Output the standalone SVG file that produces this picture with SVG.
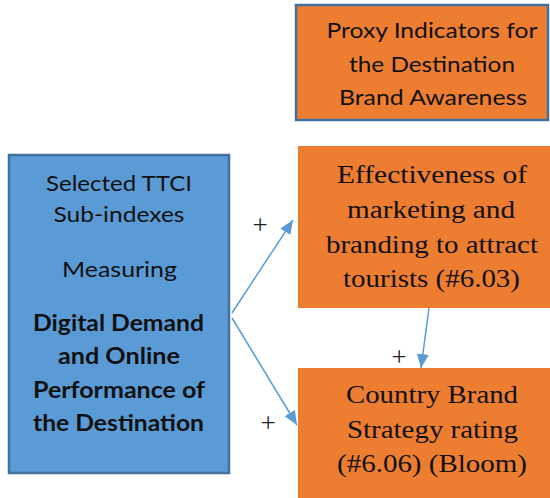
<svg xmlns="http://www.w3.org/2000/svg" width="550" height="498" viewBox="0 0 550 498">
<style>
.sans{font-family:Lato,"Open Sans","Liberation Sans",sans-serif;font-size:22px;fill:#111;text-anchor:middle}
.bold{font-weight:bold}
.serif{font-family:"Liberation Serif","Times New Roman",serif;font-size:26px;fill:#111;text-anchor:middle}
.plus{font-family:"Liberation Serif",serif;font-size:27px;fill:#222;text-anchor:middle}
.orange{fill:#ED7D31}
.conn{stroke:#5B9BD5;stroke-width:1.5;fill:none;marker-end:url(#ah)}
</style>
<defs>
<marker id="ah" markerUnits="userSpaceOnUse" markerWidth="15" markerHeight="13" refX="14" refY="6" orient="auto">
<path d="M0,0 L14,6 L0,12 z" fill="#5B9BD5"/>
</marker>
</defs>
<rect width="550" height="498" fill="#ffffff"/>
<g id="proxy">
<rect x="296" y="5" width="252" height="115" class="orange" stroke="#41719C" stroke-width="2.5"/>
<text class="sans" x="432" y="38" textLength="211" lengthAdjust="spacingAndGlyphs">Proxy Indicators for</text>
<text class="sans" x="432" y="72" textLength="166" lengthAdjust="spacingAndGlyphs">the Destination</text>
<text class="sans" x="433" y="105" textLength="188" lengthAdjust="spacingAndGlyphs">Brand Awareness</text>
</g>
<g id="ttci">
<rect x="9" y="155" width="220" height="318" fill="#5B9BD5" stroke="#41719C" stroke-width="2.5"/>
<text class="sans" x="119" y="191" textLength="146" lengthAdjust="spacingAndGlyphs">Selected TTCI</text>
<text class="sans" x="119" y="222" textLength="131" lengthAdjust="spacingAndGlyphs">Sub-indexes</text>
<text class="sans" x="119.5" y="277" textLength="115" lengthAdjust="spacingAndGlyphs">Measuring</text>
<text class="sans bold" x="118.5" y="331" textLength="171" lengthAdjust="spacingAndGlyphs">Digital Demand</text>
<text class="sans bold" x="119" y="364" textLength="122" lengthAdjust="spacingAndGlyphs">and Online</text>
<text class="sans bold" x="119" y="398" textLength="172" lengthAdjust="spacingAndGlyphs">Performance of</text>
<text class="sans bold" x="118.5" y="431" textLength="171" lengthAdjust="spacingAndGlyphs">the Destination</text>
</g>
<g id="effectiveness">
<rect x="298" y="146" width="252" height="162" class="orange"/>
<text class="serif" x="432" y="183" textLength="190" lengthAdjust="spacingAndGlyphs">Effectiveness of</text>
<text class="serif" x="431" y="218" textLength="168" lengthAdjust="spacingAndGlyphs">marketing and</text>
<text class="serif" x="432" y="253" textLength="212" lengthAdjust="spacingAndGlyphs">branding to attract</text>
<text class="serif" x="431.5" y="287" textLength="177" lengthAdjust="spacingAndGlyphs">tourists (#6.03)</text>
</g>
<g id="country">
<rect x="298" y="368" width="252" height="130" class="orange"/>
<text class="serif" x="432" y="403" textLength="172" lengthAdjust="spacingAndGlyphs">Country Brand</text>
<text class="serif" x="432.5" y="438" textLength="171" lengthAdjust="spacingAndGlyphs">Strategy rating</text>
<text class="serif" x="432" y="472" textLength="190" lengthAdjust="spacingAndGlyphs">(#6.06) (Bloom)</text>
</g>
<g id="connectors">
<path class="conn" d="M232,313 L293,220"/>
<path class="conn" d="M232,318 L297,425"/>
<path class="conn" d="M429,308 L421,368"/>
<text class="plus" x="260" y="234">+</text>
<text class="plus" x="268" y="432">+</text>
<text class="plus" x="399" y="366">+</text>
</g>
</svg>
